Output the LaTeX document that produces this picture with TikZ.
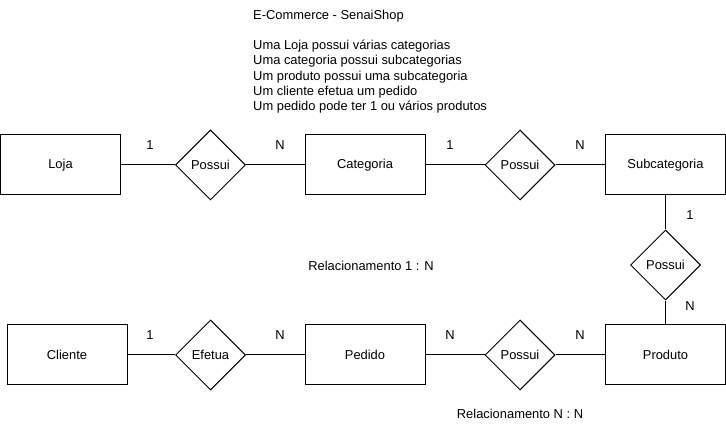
\documentclass[tikz,border=0pt]{standalone}
\usepackage{fontspec}
\setmainfont{Liberation Sans}
\usetikzlibrary{shapes.geometric}
\begin{document}
\begin{tikzpicture}[x=1pt,y=-1pt,
  every node/.style={font=\fontsize{12.9}{15.2}\selectfont, inner sep=0pt},
  entity/.style={draw, line width=1pt, minimum width=120pt, minimum height=60pt},
  rel/.style={draw, line width=1pt, diamond, aspect=1, minimum width=70pt, minimum height=70pt},
  conn/.style={line width=1pt}]
\useasboundingbox (0,0) rectangle (726,430);
% title block
\node[anchor=north west, align=left] (title) at (253,10) {E-Commerce - SenaiShop\\[15pt]Uma Loja possui várias categorias\\Uma categoria possui subcategorias\\Um produto possui uma subcategoria\\Um cliente efetua um pedido\\Um pedido pode ter 1 ou vários produtos};
% top row
\node[entity] (loja) at (60.5,165) {Loja};
\node[rel] (r1) at (210.5,165) {Possui};
\node[entity] (cat) at (365,165) {Categoria};
\node[rel] (r2) at (520,165) {Possui};
\node[entity] (sub) at (665.5,165) {Subcategoria};
% vertical
\node[rel] (r3) at (665.5,265) {Possui};
% bottom row
\node[entity] (cli) at (67,355) {Cliente};
\node[rel] (r4) at (210.5,355) {Efetua};
\node[entity] (ped) at (365,355) {Pedido};
\node[rel] (r5) at (520,355) {Possui};
\node[entity] (prod) at (665.5,355) {Produto};
% connectors
\draw[conn] (loja) -- (r1) -- (cat);
\draw[conn] (cat) -- (r2) -- (sub);
\draw[conn] (sub) -- (r3) -- (prod);
\draw[conn] (cli) -- (r4) -- (ped);
\draw[conn] (ped) -- (r5) -- (prod);
% cardinalities
\node (c1) at (150,145) {1};
\node (c2) at (280,145) {N};
\node (c3) at (450,145) {1};
\node (c4) at (580,145) {N};
\node (c5) at (690,215) {1};
\node (c6) at (690,306) {N};
\node (c7) at (150,335) {1};
\node (c8) at (280,335) {N};
\node (c9) at (450,335) {N};
\node (c10) at (580,335) {N};
% notes
\node (n1) at (371,266) {Relacionamento 1 : N};
\node (n2) at (520,414) {Relacionamento N : N};
\end{tikzpicture}
\end{document}
